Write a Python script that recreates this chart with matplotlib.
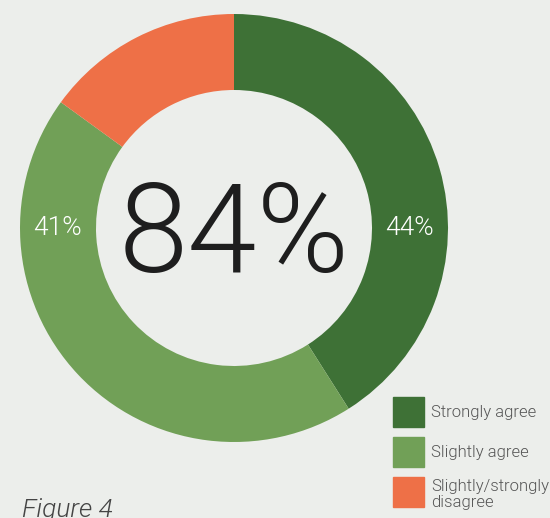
import matplotlib
matplotlib.use("Agg")
import matplotlib.pyplot as plt
from matplotlib.patches import Rectangle
from matplotlib import font_manager as fm

# Data (wedge sizes as drawn in the reference; printed labels as shown)
categories = ["Strongly agree", "Slightly agree", "Slightly/strongly\ndisagree"]
shares = [41, 44, 15]
printed_labels = ["44%", "41%"]
total_agree = "84%"
colors = ["#3E7136", "#71A057", "#EE7047"]
bg = "#ECEEEB"

names = {f.name for f in fm.fontManager.ttflist}
fam = "Roboto" if "Roboto" in names else "DejaVu Sans"

W, H = 550, 518
fig = plt.figure(figsize=(W / 100, H / 100), dpi=100, facecolor=bg)

cx, cy, R = 234, 518 - 228, 214
ax = fig.add_axes([(cx - R) / W, (cy - R) / H, 2 * R / W, 2 * R / H])
ax.set_facecolor(bg)
width = (214 - 138) / 214
ax.pie(shares, colors=colors, startangle=90, counterclock=False,
       radius=1.0, wedgeprops=dict(width=width, linewidth=0))
ax.set_xlim(-1, 1)
ax.set_ylim(-1, 1)
ax.set_aspect("equal")
ax.axis("off")

rmid = 1 - width / 2
ax.text(rmid, 0, printed_labels[0], ha="center", va="center", color="white",
        fontsize=19, family=fam, fontweight=300)
ax.text(-rmid, 0, printed_labels[1], ha="center", va="center", color="white",
        fontsize=19, family=fam, fontweight=300)
ax.text(0, -0.045, total_agree, ha="center", va="center", color="#1E1E1E",
        fontsize=90, family=fam, fontweight=300)

# Legend
for i, (lab, col) in enumerate(zip(categories, colors)):
    top = 397 + 40 * i
    fig.patches.append(Rectangle((393 / W, 1 - (top + 30) / H), 31 / W, 30 / H,
                                 transform=fig.transFigure, color=col))
    if i < 2:
        fig.text(431 / W, 1 - (top + 16) / H, lab, ha="left", va="center",
                 color="#555555", fontsize=12, family=fam, fontweight=300)
    else:
        fig.text(431 / W, 1 - (top + 2) / H, lab, ha="left", va="top",
                 color="#555555", fontsize=12, family=fam, fontweight=300,
                 linespacing=1.05)

fig.text(22 / W, 1 - 517 / H, "Figure 4", ha="left", va="baseline",
         color="#444444", fontsize=19, family=fam, style="italic",
         fontweight=300)

fig.savefig("out.png", dpi=100, facecolor=bg)
